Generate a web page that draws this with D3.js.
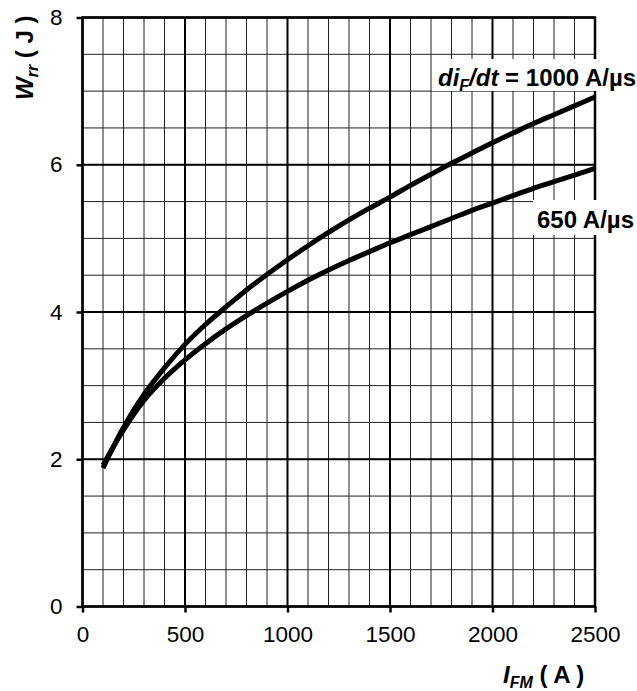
<!DOCTYPE html>
<html>
<head>
<meta charset="utf-8">
<script src="https://cdn.jsdelivr.net/npm/d3@7"></script>
<style>
  html, body { margin: 0; padding: 0; background: #fff; }
  svg { display: block; font-family: "Liberation Sans", Arial, Helvetica, sans-serif; }
</style>
</head>
<body>
<svg id="chart" width="637" height="691"></svg>
<script>
// Forward current I_FM (A)
const current = [100, 200, 300, 400, 500, 600, 700, 800, 900, 1000, 1100, 1200,
  1300, 1400, 1500, 1600, 1700, 1800, 1900, 2000, 2100, 2200, 2300, 2400, 2500];
// Reverse recovery energy W_rr (J) at di_F/dt = 1000 A/µs
const wrr1000 = [1.88, 2.43, 2.88, 3.24, 3.56, 3.83, 4.07, 4.3, 4.51, 4.71, 4.9, 5.08,
  5.25, 5.41, 5.56, 5.72, 5.87, 6.02, 6.16, 6.3, 6.43, 6.56, 6.68, 6.8, 6.92];
// Reverse recovery energy W_rr (J) at di_F/dt = 650 A/µs
const wrr650 = [1.92, 2.4, 2.8, 3.1, 3.35, 3.57, 3.77, 3.95, 4.12, 4.28, 4.43, 4.57,
  4.7, 4.82, 4.94, 5.05, 5.16, 5.27, 5.38, 5.48, 5.58, 5.68, 5.77, 5.86, 5.95];
const xTicks = [0, 500, 1000, 1500, 2000, 2500];
const yTicks = [0, 2, 4, 6, 8];
const xMinor = d3.range(0, 2501, 100);
const yMinor = d3.range(0, 8.01, 0.5);

const svg = d3.select("#chart");
const L = 82.5, R = 595, T = 17.5, B = 606.5;
const x = d3.scaleLinear().domain([0, 2500]).range([L, R]);
const y = d3.scaleLinear().domain([0, 8]).range([B, T]);

// minor grid
const grid = svg.append("g");
grid.selectAll(".vmin").data(xMinor).join("line")
  .attr("x1", d => x(d)).attr("x2", d => x(d)).attr("y1", T).attr("y2", B)
  .attr("stroke", "#222").attr("stroke-width", 1);
grid.selectAll(".hmin").data(yMinor).join("line")
  .attr("y1", d => y(d)).attr("y2", d => y(d)).attr("x1", L).attr("x2", R)
  .attr("stroke", "#222").attr("stroke-width", 1);
// major grid
grid.selectAll(".vmaj").data(xTicks).join("line")
  .attr("x1", d => x(d)).attr("x2", d => x(d)).attr("y1", T).attr("y2", B)
  .attr("stroke", "#000").attr("stroke-width", 2);
grid.selectAll(".hmaj").data(yTicks).join("line")
  .attr("y1", d => y(d)).attr("y2", d => y(d)).attr("x1", L).attr("x2", R)
  .attr("stroke", "#000").attr("stroke-width", 2);

// frame
svg.append("rect").attr("x", L).attr("y", T).attr("width", R - L).attr("height", B - T)
  .attr("fill", "none").attr("stroke", "#000").attr("stroke-width", 2.5);

// axes
const yAxis = svg.append("g").attr("transform", `translate(${L},0)`)
  .call(d3.axisLeft(y).tickValues(yTicks).tickSize(6).tickPadding(14).tickFormat(d3.format("d")));
const xAxis = svg.append("g").attr("transform", `translate(0,${B})`)
  .call(d3.axisBottom(x).tickValues(xTicks).tickSize(6).tickPadding(14).tickFormat(d3.format("d")));
[xAxis, yAxis].forEach(a => {
  a.select(".domain").remove();
  a.selectAll(".tick line").attr("stroke", "#000").attr("stroke-width", 2.5);
  a.selectAll(".tick text").attr("fill", "#000").style("font-size", "22.5px")
    .style("font-family", '"Liberation Sans", Arial, sans-serif');
});

// label backgrounds
svg.append("rect").attr("x", 432).attr("y", 59).attr("width", 205).attr("height", 32).attr("fill", "#fff");
svg.append("rect").attr("x", 533).attr("y", 200).attr("width", 104).attr("height", 35).attr("fill", "#fff");

// curves
const line = d3.line().x(d => x(d[0])).y(d => y(d[1])).curve(d3.curveCatmullRom);
[wrr1000, wrr650].forEach(s => {
  svg.append("path").datum(current.map((c, i) => [c, s[i]]))
    .attr("d", line).attr("fill", "none").attr("stroke", "#000").attr("stroke-width", 5);
});

// series labels
const lab1 = svg.append("text").attr("x", 438).attr("y", 86)
  .style("font-size", "24px").style("font-weight", "bold");
lab1.append("tspan").style("font-style", "italic").text("di");
lab1.append("tspan").style("font-style", "italic").style("font-size", "16px").attr("dy", 5).text("F");
lab1.append("tspan").style("font-style", "italic").attr("dy", -5).text("/dt");
lab1.append("tspan").text(" = 1000 A/µs");

svg.append("text").attr("x", 537).attr("y", 228)
  .style("font-size", "24px").style("font-weight", "bold").text("650 A/µs");

// axis titles
const xt = svg.append("text").attr("x", 503).attr("y", 683)
  .style("font-size", "24px").style("font-weight", "bold");
xt.append("tspan").style("font-style", "italic").text("I");
xt.append("tspan").style("font-style", "italic").style("font-size", "16px").attr("dy", 5).text("FM");
xt.append("tspan").attr("dy", -5).text(" ( A )");

const yt = svg.append("text").attr("transform", "translate(33,100) rotate(-90)")
  .style("font-size", "24px").style("font-weight", "bold");
yt.append("tspan").style("font-style", "italic").text("W");
yt.append("tspan").style("font-style", "italic").style("font-size", "16px").attr("dy", 5).text("rr");
yt.append("tspan").attr("dy", -5).text(" ( J )");
</script>
</body>
</html>
